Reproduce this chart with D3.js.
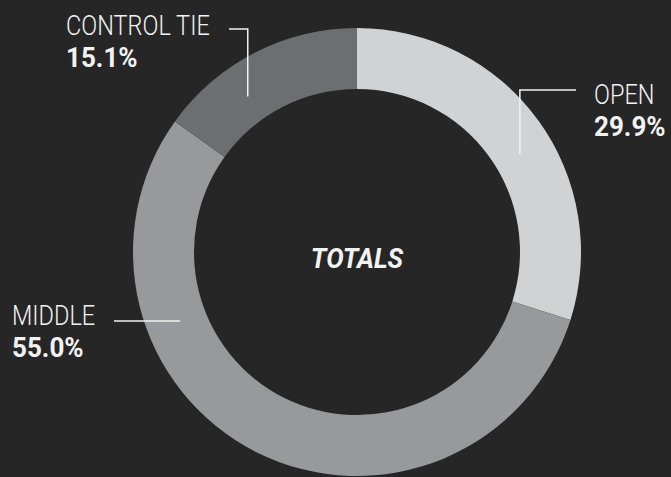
<!DOCTYPE html>
<html>
<head>
<meta charset="utf-8">
<script src="https://cdn.jsdelivr.net/npm/d3@7"></script>
<style>
  html, body { margin: 0; padding: 0; background: #262626; }
  svg { display: block; }
  text { font-family: 'Roboto', 'Liberation Sans', sans-serif; fill: #f2f2f2; }
</style>
</head>
<body>
<div id="chart"></div>
<script>
// Data
const categories = ['OPEN', 'MIDDLE', 'CONTROL TIE'];
const shares = [29.9, 55.0, 15.1];
const colors = ['#d1d2d4', '#98999c', '#6d6e71'];
const centerTitle = 'TOTALS';

// Where each leader line touches the ring (degrees, clockwise from top)
const labelAngles = [59, 248.7, 324.9];

const width = 671, height = 477;
const cx = 357, cy = 252;
const outerR = 224, innerR = 163, anchorR = 190;

const svg = d3.select('#chart')
  .append('svg')
    .attr('width', width)
    .attr('height', height);

const g = svg.append('g')
    .attr('transform', 'translate(' + cx + ',' + cy + ')');

const pie = d3.pie()
    .sort(null)
    .value(function(d) { return d.value; });

const arc = d3.arc()
    .innerRadius(innerR)
    .outerRadius(outerR);

const data = categories.map(function(c, i) {
  return { name: c, value: shares[i], color: colors[i], angle: labelAngles[i] };
});

g.selectAll('path.slice')
  .data(pie(data))
  .enter()
  .append('path')
    .attr('class', 'slice')
    .attr('d', arc)
    .style('fill', function(d) { return d.data.color; });

// condensed-looking text: squeeze horizontally
function addText(parent, x, y, str, size, weight, italic, sx) {
  parent.append('text')
      .attr('transform', 'translate(' + x + ',' + y + ') scale(' + sx + ',1)')
      .attr('text-anchor', 'start')
      .style('font-size', size + 'px')
      .style('font-weight', weight)
      .style('font-style', italic ? 'italic' : 'normal')
      .text(str);
}

// centre title
g.append('text')
    .attr('transform', 'translate(0,16) scale(0.93,1)')
    .attr('text-anchor', 'middle')
    .style('font-size', '28px')
    .style('font-weight', 'bold')
    .style('font-style', 'italic')
    .text(centerTitle);

// leader layout: elbow y (relative), end x (relative), text x, label baseline
const leaders = {
  'OPEN':        { elbowY: -162, endX: 219, textX: 237, baseY: -148 },
  'MIDDLE':      { elbowY: null, endX: -243, textX: -345, baseY: 73 },
  'CONTROL TIE': { elbowY: -223, endX: -128, textX: -291, baseY: -217 }
};

data.forEach(function(d) {
  const a = d.angle * Math.PI / 180;
  const ax = anchorR * Math.sin(a), ay = -anchorR * Math.cos(a);
  const L = leaders[d.name];
  const pts = L.elbowY === null
    ? [[ax, ay], [L.endX, ay]]
    : [[ax, ay], [ax, L.elbowY], [L.endX, L.elbowY]];

  g.append('path')
      .attr('d', d3.line()(pts))
      .style('fill', 'none')
      .style('stroke', '#f2f2f2')
      .style('stroke-width', 1.5);

  addText(g, L.textX, L.baseY, d.name, 28, 300, false, 0.84);
  addText(g, L.textX, L.baseY + 32, d3.format('.1f')(d.value) + '%', 28, 'bold', false, 0.93);
});
</script>
</body>
</html>
